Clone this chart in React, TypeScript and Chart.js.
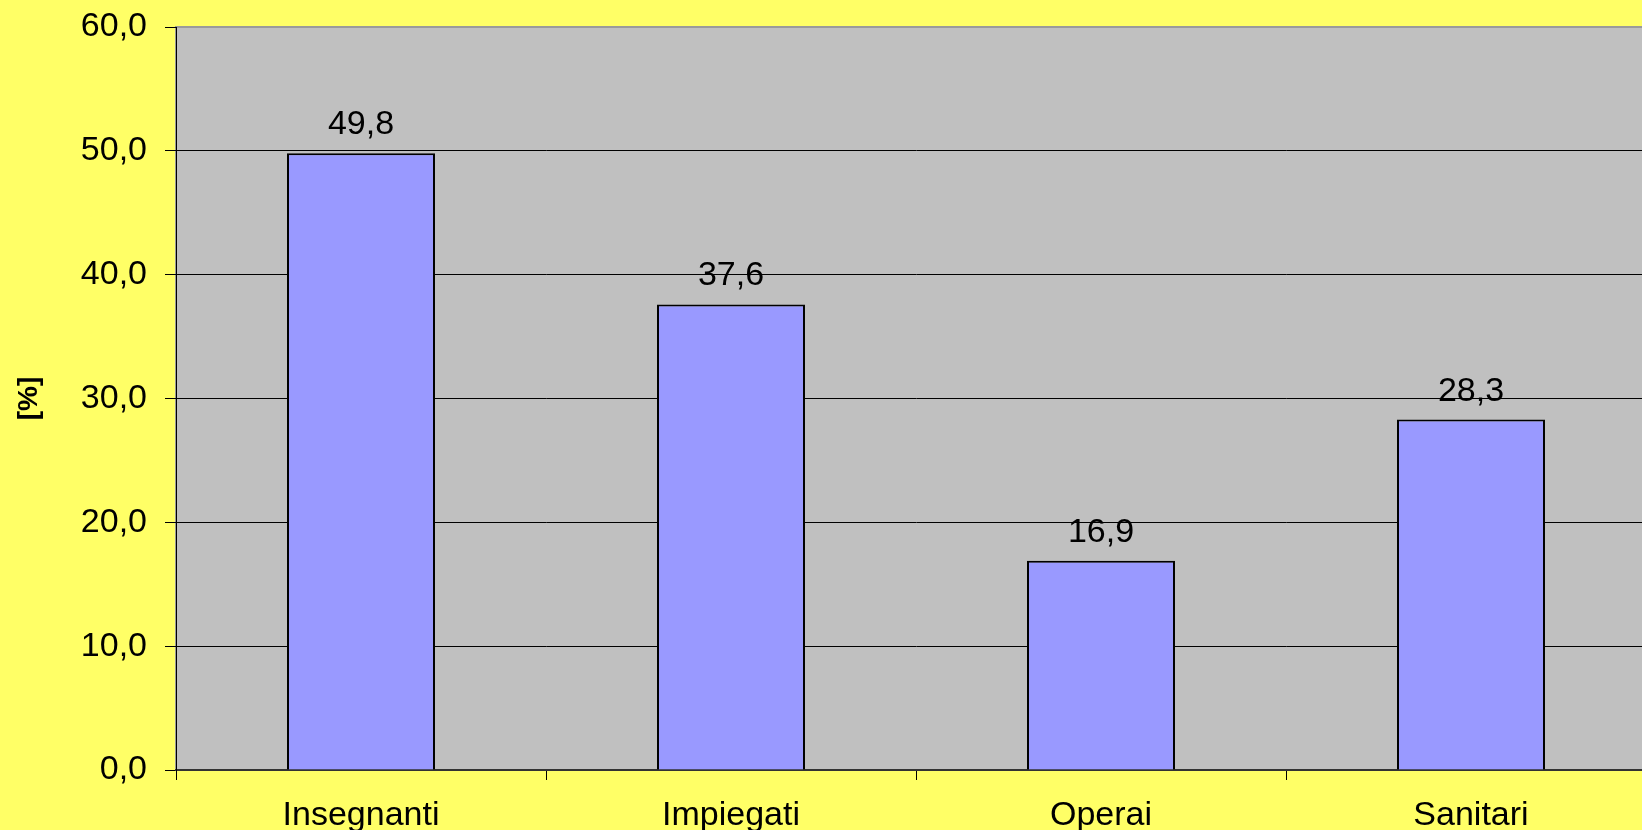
import React, { useEffect, useRef } from "react";
import { Chart, registerables } from "chart.js";

Chart.register(...registerables);

const categories = ["Insegnanti", "Impiegati", "Operai", "Sanitari"];
const values = [49.8, 37.6, 16.9, 28.3];
const yMin = 0;
const yMax = 60;
const yStep = 10;
const yTitle = "[%]";

const FONT = "'Liberation Sans', Arial, sans-serif";
const FS = 34;
const fmt = (v: number) => v.toFixed(1).replace(".", ",");

const bgPlugin = {
  id: "bgPlugin",
  beforeDraw(chart: any) {
    const { ctx, chartArea, width, height } = chart;
    ctx.save();
    ctx.fillStyle = "#FFFF66";
    ctx.fillRect(0, 0, width, height);
    ctx.fillStyle = "#C0C0C0";
    ctx.fillRect(chartArea.left, chartArea.top, chartArea.right - chartArea.left, chartArea.bottom - chartArea.top);
    ctx.strokeStyle = "#9A9A9A";
    ctx.lineWidth = 2;
    ctx.strokeRect(chartArea.left, chartArea.top, chartArea.right - chartArea.left, chartArea.bottom - chartArea.top);
    ctx.restore();
  },
};

const valueLabels = {
  id: "valueLabels",
  afterDatasetsDraw(chart: any) {
    const { ctx } = chart;
    const meta = chart.getDatasetMeta(0);
    ctx.save();
    ctx.font = `${FS}px ${FONT}`;
    ctx.fillStyle = "#000";
    ctx.textAlign = "center";
    ctx.textBaseline = "alphabetic";
    meta.data.forEach((bar: any, i: number) => {
      ctx.fillText(fmt(values[i]), bar.x, bar.y - 19);
    });
    ctx.restore();
  },
};

export default function App() {
  const ref = useRef<HTMLCanvasElement>(null);
  useEffect(() => {
    if (!ref.current) return;
    const chart = new Chart(ref.current, {
      type: "bar",
      data: {
        labels: categories,
        datasets: [
          {
            data: values,
            backgroundColor: "#9999FF",
            borderColor: "#000000",
            borderWidth: 2,
            barPercentage: 0.4,
            categoryPercentage: 1,
          },
        ],
      },
      options: {
        responsive: false,
        animation: false,
        devicePixelRatio: 1,
        layout: { padding: { top: 27, right: 4, left: 0, bottom: 0 } },
        plugins: { legend: { display: false }, tooltip: { enabled: false } },
        scales: {
          x: {
            offset: true,
            grid: {
              offset: true,
              drawOnChartArea: false,
              drawTicks: true,
              tickLength: 10,
              color: "#000",
              lineWidth: 1,
            },
            border: { color: "#333", width: 2 },
            ticks: {
              color: "#000",
              font: { family: FONT, size: FS },
              padding: 15,
              maxRotation: 0,
            },
            afterFit(scale: any) {
              scale.height = 90;
            },
          },
          y: {
            min: yMin,
            max: yMax,
            ticks: {
              stepSize: yStep,
              color: "#000",
              font: { family: FONT, size: FS, lineHeight: 0.5 },
              padding: 18,
              callback: (v: any) => fmt(Number(v)),
            },
            grid: {
              color: (c: any) => (c.tick && c.tick.value === yMax ? "rgba(0,0,0,0)" : "#000"),
              tickColor: "#000",
              lineWidth: 1,
              tickLength: 11,
            },
            border: { color: "#000", width: 1 },
            title: {
              display: true,
              text: yTitle,
              color: "#000",
              font: { family: FONT, size: 28, weight: "bold" },
              padding: { top: 12, bottom: 0 },
            },
            afterFit(scale: any) {
              scale.width = 176;
            },
          },
        },
      },
      plugins: [bgPlugin, valueLabels],
    });
    return () => chart.destroy();
  }, []);

  return (
    <div
      style={{
        position: "fixed",
        left: 0,
        top: 0,
        width: "100vw",
        height: "100vh",
        overflow: "hidden",
        background: "#FFFF66",
      }}
    >
      <canvas ref={ref} width={1660} height={860} style={{ display: "block" }} />
    </div>
  );
}
